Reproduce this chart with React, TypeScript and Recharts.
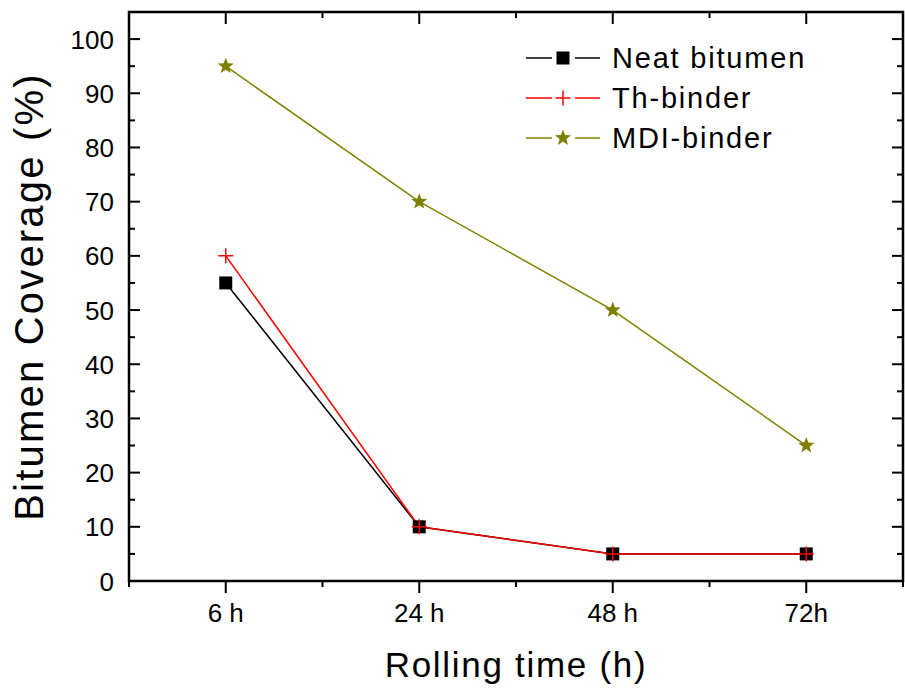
import { LineChart, Line, XAxis, YAxis, ReferenceArea } from "recharts";

const categories = ["6 h", "24 h", "48 h", "72h"];
const neatBitumen = [55, 10, 5, 5];
const thBinder = [60, 10, 5, 5];
const mdiBinder = [95, 70, 50, 25];

const xTicks = [0.5, 1, 1.5, 2, 2.5, 3, 3.5, 4, 4.5];
const yTicks = [0, 5, 10, 15, 20, 25, 30, 35, 40, 45, 50, 55, 60, 65, 70, 75, 80, 85, 90, 95, 100];
const X_DOMAIN = [0.5, 4.5];
const Y_DOMAIN = [0, 105];

const data = categories.map((c, i) => ({
  x: i + 1,
  label: c,
  neat: neatBitumen[i],
  th: thBinder[i],
  mdi: mdiBinder[i],
}));

const FONT = "Liberation Sans, Arial, Helvetica, sans-serif";
const OLIVE = "#808000";
const RED = "#ff0000";

// plot box edges (from chart margin / axis sizes below)
const PLOT_TOP = 12;
const PLOT_RIGHT = 903;

function starPath(cx: number, cy: number, R: number, r: number) {
  let d = "";
  for (let i = 0; i < 10; i++) {
    const rad = i % 2 === 0 ? R : r;
    const a = -Math.PI / 2 + (i * Math.PI) / 5;
    d += (i === 0 ? "M" : "L") + (cx + rad * Math.cos(a)).toFixed(2) + "," + (cy + rad * Math.sin(a)).toFixed(2);
  }
  return d + "Z";
}

const Square = ({ cx, cy }: any) => <rect x={cx - 6.5} y={cy - 6.5} width={13} height={13} fill="#000" />;
const Plus = ({ cx, cy }: any) => (
  <path d={`M${cx - 7.5},${cy}H${cx + 7.5}M${cx},${cy - 7.5}V${cy + 7.5}`} stroke={RED} strokeWidth={1.5} fill="none" />
);
const Star = ({ cx, cy }: any) => <path d={starPath(cx, cy, 8.5, 3.6)} fill={OLIVE} />;

// bottom ticks point out, mirrored top ticks point in
const BottomTick = ({ x, y, payload }: any) => {
  const major = Number.isInteger(payload.value);
  const len = major ? 12 : 6;
  return (
    <g>
      <line x1={x} y1={y} x2={x} y2={y + len} stroke="#000" strokeWidth={2} />
      <line x1={x} y1={PLOT_TOP} x2={x} y2={PLOT_TOP + len} stroke="#000" strokeWidth={2} />
      {major && (
        <text x={x} y={y + 41} textAnchor="middle" fontSize={26} fontFamily={FONT} fill="#000">
          {categories[payload.value - 1]}
        </text>
      )}
    </g>
  );
};

// left ticks point in, mirrored right ticks point in
const LeftTick = ({ x, y, payload }: any) => {
  const major = payload.value % 10 === 0;
  const len = major ? 11 : 6;
  return (
    <g>
      <line x1={x} y1={y} x2={x + len} y2={y} stroke="#000" strokeWidth={2} />
      <line x1={PLOT_RIGHT} y1={y} x2={PLOT_RIGHT - len} y2={y} stroke="#000" strokeWidth={2} />
      {major && (
        <text x={x - 15} y={y + 9.5} textAnchor="end" fontSize={26} fontFamily={FONT} fill="#000">
          {payload.value}
        </text>
      )}
    </g>
  );
};

const legendItems = [
  { name: "Neat bitumen", color: "#000", Marker: Square },
  { name: "Th-binder", color: RED, Marker: Plus },
  { name: "MDI-binder", color: OLIVE, Marker: Star },
];

const LegendBox = () => (
  <svg width={300} height={130} style={{ position: "absolute", left: 520, top: 37 }}>
    {legendItems.map((it, i) => {
      const cy = 21 + i * 40;
      const M = it.Marker;
      return (
        <g key={it.name}>
          <line x1={6} y1={cy} x2={32} y2={cy} stroke={it.color} strokeWidth={1.5} />
          <line x1={55} y1={cy} x2={80} y2={cy} stroke={it.color} strokeWidth={1.5} />
          <M cx={43} cy={cy} />
          <text x={92} y={cy + 10} fontSize={29} fontFamily={FONT} letterSpacing={1.8} fill="#000">
            {it.name}
          </text>
        </g>
      );
    })}
  </svg>
);

export default function App() {
  return (
    <div style={{ position: "absolute", left: 0, top: 0, width: 905, height: 698, background: "#fff" }}>
      <LineChart width={905} height={698} data={data} margin={{ top: PLOT_TOP, right: 905 - PLOT_RIGHT, bottom: 0, left: 0 }}>
        <ReferenceArea
          x1={X_DOMAIN[0]}
          x2={X_DOMAIN[1]}
          y1={Y_DOMAIN[0]}
          y2={Y_DOMAIN[1]}
          fill="none"
          stroke="#000"
          strokeWidth={2.5}
          ifOverflow="visible"
        />
        <XAxis
          dataKey="x"
          type="number"
          domain={X_DOMAIN}
          ticks={xTicks}
          interval={0}
          height={117}
          tickSize={0}
          tickMargin={0}
          tick={<BottomTick />}
          axisLine={{ stroke: "#000", strokeWidth: 2 }}
          label={(props: any) => {
            const vb = props.viewBox;
            return (
              <text x={vb.x + vb.width / 2} y={vb.y + 96} textAnchor="middle" fontSize={35} letterSpacing={1.7} fontFamily={FONT} fill="#000">
                Rolling time (h)
              </text>
            );
          }}
        />
        <YAxis
          type="number"
          domain={Y_DOMAIN}
          ticks={yTicks}
          interval={0}
          width={129}
          tickSize={0}
          tickMargin={0}
          tick={<LeftTick />}
          axisLine={{ stroke: "#000", strokeWidth: 2 }}
          label={(props: any) => {
            const vb = props.viewBox;
            const cy = vb.y + vb.height / 2;
            return (
              <text x={43} y={cy} transform={`rotate(-90, 43, ${cy})`} textAnchor="middle" fontSize={40} letterSpacing={2.2} fontFamily={FONT} fill="#000">
                Bitumen Coverage (%)
              </text>
            );
          }}
        />
        <Line dataKey="neat" name="Neat bitumen" stroke="#000" strokeWidth={1.5} dot={<Square />} isAnimationActive={false} />
        <Line dataKey="th" name="Th-binder" stroke={RED} strokeWidth={1.5} dot={<Plus />} isAnimationActive={false} />
        <Line dataKey="mdi" name="MDI-binder" stroke={OLIVE} strokeWidth={1.5} dot={<Star />} isAnimationActive={false} />
      </LineChart>
      <LegendBox />
    </div>
  );
}
